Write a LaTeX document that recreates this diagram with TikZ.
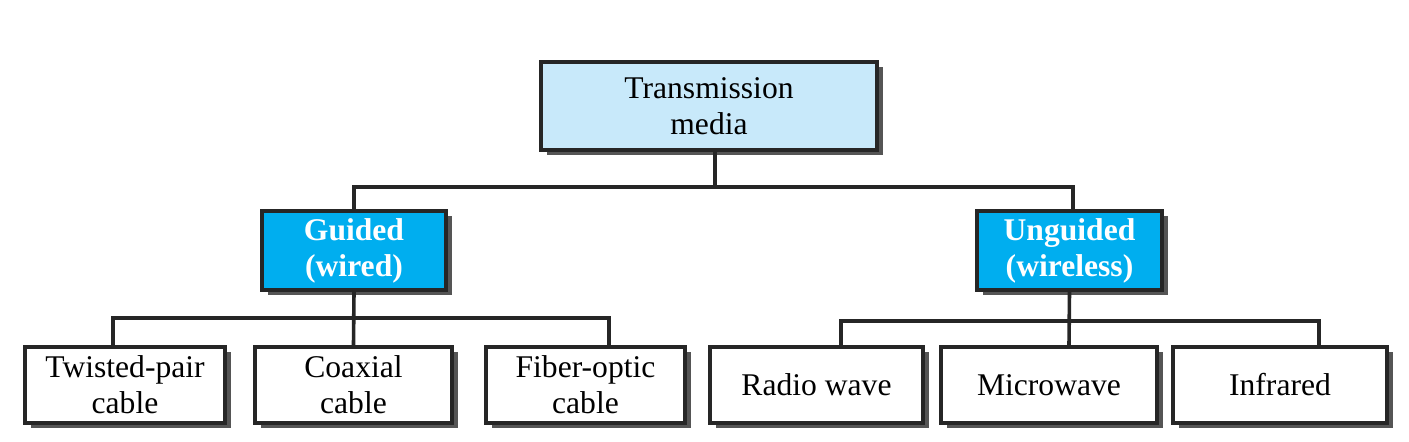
\documentclass[tikz,border=0pt]{standalone}
\usepackage{fontspec}
\setmainfont{Liberation Serif}
\usetikzlibrary{positioning,shadows}

\definecolor{mediafill}{RGB}{200,233,250}
\definecolor{kindfill}{RGB}{0,174,239}
\definecolor{shadowgray}{RGB}{85,85,85}

\begin{document}
\begin{tikzpicture}[x=0.5pt,y=-0.5pt,
  box/.style={draw=black!85,line width=1.7pt,align=center,inner sep=0pt,
    font=\fontsize{15.8}{18}\selectfont,
    drop shadow={shadow xshift=3pt,shadow yshift=-2.5pt,fill=shadowgray,opacity=1}},
  mediabox/.style={box,fill=mediafill,minimum width=168pt,minimum height=44pt},
  kindbox/.style={box,fill=kindfill,text=white,font=\fontsize{15.8}{18}\selectfont\bfseries,
    minimum width=92pt,minimum height=39.5pt},
  leafbox/.style={box,fill=white,minimum height=38pt},
  link/.style={draw=black!85,line width=1.8pt}]

\useasboundingbox (0,0) rectangle (1409,442);

%---------------------------------
% RAÍZ
%---------------------------------
\node[mediabox] (media) at (709,106) {Transmission\\ media};

%---------------------------------
% SEGUNDO NIVEL
%---------------------------------
\node[kindbox] (guided) at (354,250.5) {Guided\\ (wired)};
\node[kindbox,minimum width=92.5pt] (unguided) at (1069.5,250.5) {Unguided\\ (wireless)};

%---------------------------------
% HOJAS
%---------------------------------
\node[leafbox,minimum width=100pt] (twisted) at (125,385) {Twisted-pair\\ cable};
\node[leafbox,minimum width=98.5pt] (coax) at (353.5,385) {Coaxial\\ cable};
\node[leafbox,minimum width=99.5pt] (fiber) at (585.5,385) {Fiber-optic\\ cable};

\node[leafbox,minimum width=106.5pt] (radio) at (816.5,385) {Radio wave};
\node[leafbox,minimum width=108pt] (micro) at (1049,385) {Microwave};
\node[leafbox,minimum width=107pt] (infra) at (1280,385) {Infrared};

% barras de reparto
\coordinate (media-bar) at (715,187);
\coordinate (guided-bar) at (354,318);
\coordinate (unguided-bar) at (1069,321);

%---------------------------------
% CONEXIONES
%---------------------------------
\draw[link] ([xshift=3pt]media.south) -- (media-bar);
\draw[link] (guided.north) |- (media-bar) -| ([xshift=1.75pt]unguided.north);

\draw[link] (guided.south) -- (coax.north);
\draw[link] ([xshift=-6pt]twisted.north) |- (guided-bar) -| ([xshift=11.75pt]fiber.north);

\draw[link] (unguided.south) -- ([xshift=10pt]micro.north);
\draw[link] ([xshift=12.25pt]radio.north) |- (unguided-bar) -| ([xshift=19.5pt]infra.north);

\end{tikzpicture}
\end{document}
